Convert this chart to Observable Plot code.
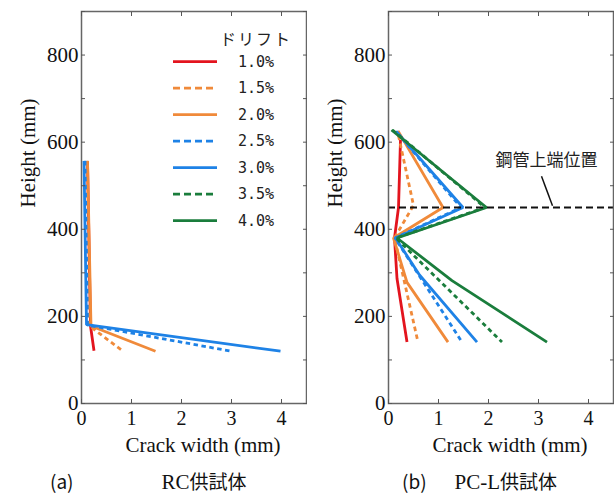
<!DOCTYPE html>
<html><head><meta charset="utf-8">
<script src="https://cdn.jsdelivr.net/npm/d3@7"></script>
<script src="https://cdn.jsdelivr.net/npm/@observablehq/plot@0.6"></script>
<style>
body{margin:0;background:#fff;}
#wrap{position:relative;width:614px;height:500px;overflow:hidden;background:#fff;}
.panel{position:absolute;top:0;}
.cap{position:absolute;top:467px;font-size:20px;white-space:nowrap;color:#111;}
.cap .l{font-family:"Noto Sans CJK JP",sans-serif;font-size:19px;}
.cap .s{font-family:"Liberation Serif",serif;font-size:21px;}
.cap .k{font-family:"Noto Sans CJK JP",sans-serif;font-size:19px;}
</style></head><body><div id="wrap"></div>
<script>
// ---- series (drift labels & styles) ----
const drifts = ["1.0%", "1.5%", "2.0%", "2.5%", "3.0%", "3.5%", "4.0%"];
const colors = ["#e3141e", "#f08a3a", "#f08a3a", "#1e82e6", "#1e82e6", "#1a7d3c", "#1a7d3c"];
const dashed = [false, true, false, true, false, true, false];

// ---- (a) RC specimen: [crack width (mm), height (mm)] ----
const rc10 = [[0.12, 556], [0.18, 178], [0.25, 121]];
const rc15 = [[0.10, 557], [0.16, 178], [0.83, 120]];
const rc20 = [[0.12, 557], [0.19, 178], [1.48, 120]];
const rc25 = [[0.07, 557], [0.12, 180], [3.00, 120]];
const rc30 = [[0.05, 557], [0.10, 181], [3.98, 120]];

// ---- (b) PC-L specimen ----
const pc10 = [[0.24, 605], [0.20, 450], [0.12, 380], [0.17, 287], [0.37, 141]];
const pc15 = [[0.20, 615], [0.50, 455], [0.12, 380], [0.59, 141]];
const pc20 = [[0.19, 626], [1.09, 450], [0.10, 380], [0.37, 278], [1.19, 141]];
const pc25 = [[0.17, 622], [1.45, 450], [0.13, 380], [1.47, 141]];
const pc30 = [[0.15, 625], [1.49, 450], [0.14, 380], [0.62, 295], [1.77, 141]];
const pc35 = [[0.08, 628], [1.93, 450], [0.15, 380], [2.27, 141]];
const pc40 = [[0.06, 628], [1.96, 450], [0.17, 380], [1.27, 282], [3.17, 141]];

// ---- axes ----
const xTicks = [0, 1, 2, 3, 4];
const yTicks = [0, 100, 200, 300, 400, 500, 600, 700, 800, 900];
const xDomain = [0, 4.5];
const yDomain = [0, 900];
const xLabel = "Crack width (mm)";
const yLabel = "Height (mm)";

// ---- annotation (b) ----
const pipeTop = 450;
const annoText = "鋼管上端位置";
const annoPos = [3.16, 557];
const leader = [[3.06, 522], [3.28, 454]];

const rcSeries = [rc10, rc15, rc20, rc25, rc30];
const pcSeries = [pc10, pc15, pc20, pc25, pc30, pc35, pc40];

const SERIF = "'Liberation Serif', serif";

function lineMarks(seriesList) {
  return seriesList.map((s, i) => Plot.line(s, {
    x: d => d[0], y: d => d[1],
    stroke: colors[i], strokeWidth: 2.8,
    strokeDasharray: dashed[i] ? "4.5,3.5" : null,
    strokeLinejoin: "miter", strokeLinecap: "butt"
  }));
}

function panel(seriesList, extra) {
  return Plot.plot({
    width: 307, height: 460,
    marginLeft: 81, marginRight: 1, marginTop: 11, marginBottom: 57,
    x: {domain: xDomain},
    y: {domain: yDomain},
    style: {fontFamily: SERIF, fontSize: "20px", color: "#111", background: "#fff"},
    marks: [
      ...lineMarks(seriesList),
      ...extra,
      Plot.frame({stroke: "#666", strokeWidth: 1.5}),
      Plot.axisX({ticks: xTicks, tickSize: -4, tickPadding: 11, tickFormat: d => String(d), label: null, stroke: "#555", fill: "#111", fontSize: 20, fontFamily: SERIF}),
      Plot.axisX({anchor: "top", ticks: xTicks, tickSize: -4, tickFormat: () => "", label: null, stroke: "#555"}),
      Plot.axisY({ticks: yTicks, tickSize: -4, tickPadding: 7, tickFormat: d => d % 200 === 0 ? String(d) : "", label: null, stroke: "#555", fill: "#111", fontSize: 21, fontFamily: SERIF}),
      Plot.axisY({anchor: "right", ticks: yTicks, tickSize: -4, tickFormat: () => "", label: null, stroke: "#555"}),
      Plot.text([xLabel], {frameAnchor: "bottom", dy: 48, dx: 9, fontSize: 21, fill: "#111", fontFamily: SERIF}),
      Plot.text([yLabel], {frameAnchor: "left", rotate: -90, dx: -53, fontSize: 21, fill: "#111", fontFamily: SERIF})
    ]
  });
}

const wrap = document.getElementById("wrap");

const pa = panel(rcSeries, []);
pa.classList.add("panel"); pa.style.left = "0px";
wrap.appendChild(pa);

const pb = panel(pcSeries, [
  Plot.ruleY([pipeTop], {stroke: "#111", strokeWidth: 2, strokeDasharray: "7,4"}),
  Plot.link([leader], {x1: d => d[0][0], y1: d => d[0][1], x2: d => d[1][0], y2: d => d[1][1], stroke: "#111", strokeWidth: 1.5}),
  Plot.text([annoText], {x: annoPos[0], y: annoPos[1], fontFamily: "Noto Sans CJK JP", fontSize: 17, fill: "#222"})
]);
pb.classList.add("panel"); pb.style.left = "307px";
wrap.appendChild(pb);

// ---- legend (drawn inside panel a) ----
const leg = d3.create("svg").attr("width", 307).attr("height", 240)
  .style("position", "absolute").style("left", "0px").style("top", "0px");
leg.append("text").attr("x", 256).attr("y", 38).attr("text-anchor", "middle")
  .attr("dominant-baseline", "central").attr("font-family", "Noto Sans CJK JP")
  .attr("font-size", 16).attr("letter-spacing", 2).attr("fill", "#222").text("ドリフト");
drifts.forEach((d, i) => {
  const y = 61.7 + i * 26.5;
  leg.append("line").attr("x1", 173).attr("x2", 217).attr("y1", y).attr("y2", y)
    .attr("stroke", colors[i]).attr("stroke-width", 2.8)
    .attr("stroke-dasharray", dashed[i] ? "7,4" : null);
  leg.append("text").attr("x", 238).attr("y", y).attr("dominant-baseline", "central")
    .attr("font-family", "DejaVu Sans Mono").attr("font-size", 15).attr("fill", "#222")
    .text(d);
});
wrap.appendChild(leg.node());

// ---- captions ----
const capA = document.createElement("div");
capA.className = "cap"; capA.style.left = "50px";
capA.innerHTML = '<span class="l">(a)</span><span class="s" style="margin-left:88px">RC</span><span class="k">供試体</span>';
wrap.appendChild(capA);
const capB = document.createElement("div");
capB.className = "cap"; capB.style.left = "402px";
capB.innerHTML = '<span class="l">(b)</span><span class="s" style="margin-left:28px">PC-L</span><span class="k">供試体</span>';
wrap.appendChild(capB);
</script></body></html>
